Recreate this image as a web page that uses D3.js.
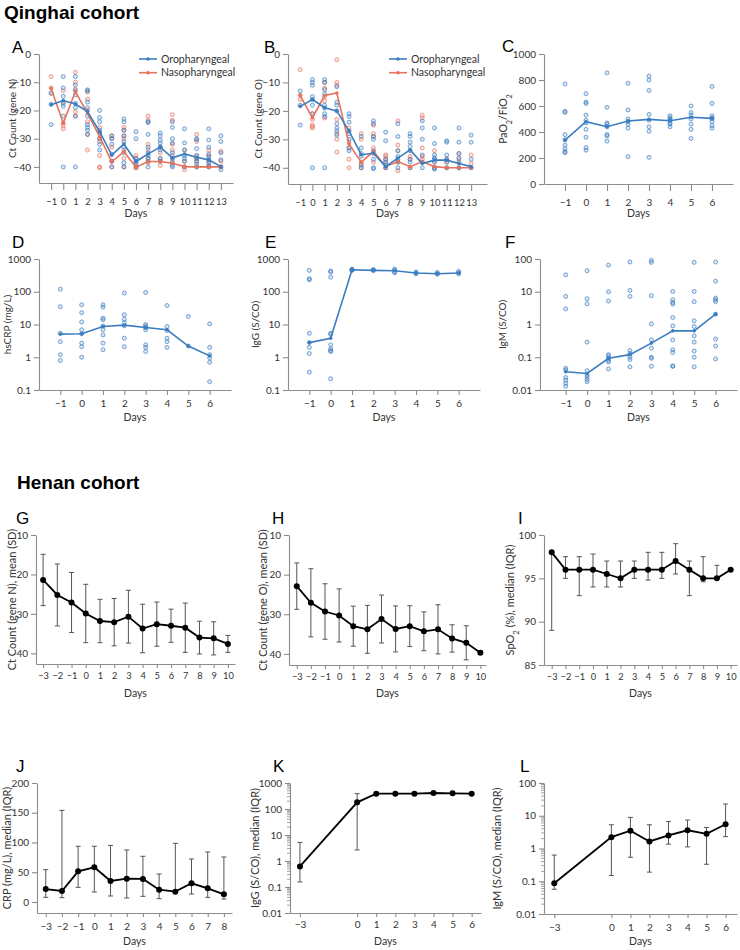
<!DOCTYPE html>
<html lang="en">
<head>
<meta charset="UTF-8">
<script src="https://cdn.jsdelivr.net/npm/d3@7"></script>
<title>cohort panels</title>
<style>
body{margin:0;background:#fff;}
svg text{font-family:Lato,"Open Sans",sans-serif;fill:#333;}
.ttl{font-family:"Liberation Sans",Arial,sans-serif;font-weight:bold;font-size:19px;fill:#000;}
.lab{font-family:"Liberation Sans",Arial,sans-serif;font-size:17px;fill:#000;}
.axis path,.axis line{stroke:#8c8c8c;stroke-width:1.1;}
.axis text{font-size:10px;fill:#333;}
.axis.tight text{font-size:9.3px;}
</style>
</head>
<body>
<svg id="fig" width="740" height="950"></svg>
<script>
// ---------- Qinghai cohort data ----------
var daysQ13=[-1,0,1,2,3,4,5,6,7,8,9,10,11,12,13];
var daysQ6=[-1,0,1,2,3,4,5,6];

// A: Ct gene N
var ctN_oro_mean=[-18,-16.5,-17.7,-20.4,-27.5,-35.8,-31.9,-38.1,-35.4,-33,-36.8,-35.4,-36.6,-37.5,-39.9];
var ctN_naso_mean=[-12.2,-24.5,-13.3,-21,-29.3,-38.2,-34.6,-40.1,-38.1,-38.1,-38.7,-39.9,-40,-40,-40];
var ctN_oro_pts=[
 [-13.8,-17.8,-25],
 [-8,-12,-15,-17.5,-18.5,-22,-40],
 [-8,-11,-13,-14.5,-17.5,-19,-22,-40],
 [-12.7,-13,-17,-19,-22,-25,-26,-27,-28.5],
 [-20,-22.5,-24,-27,-28,-30,-32,-34],
 [-29,-30,-32,-35.5,-38,-40],
 [-23,-24,-27,-29,-31,-33,-35,-38.5,-40],
 [-27.5,-30,-37,-38,-39,-40],
 [-24,-24.3,-28.5,-33,-35,-36,-37,-38,-40],
 [-28,-29,-30.5,-31.5,-33,-34,-37,-38],
 [-24,-26,-30,-31.5,-35,-37,-38.5,-39.5,-40],
 [-26.5,-31.5,-34,-36,-37,-38,-40],
 [-30,-30.3,-33.5,-36,-37,-38,-39,-40],
 [-26.5,-30.5,-33,-35.5,-36.5,-37.5,-38.5,-39.5,-40],
 [-29,-31,-35,-37.5,-40,-41]
];
var ctN_naso_pts=[
 [-8,-12,-14],
 [-13,-17,-24.5,-25.5,-26.5],
 [-6.5,-10,-12.5,-20.5,-22],
 [-13.5,-16,-20,-24,-28.5,-34],
 [-26,-28,-30,-31,-36,-40,-40.3],
 [-29,-30,-33,-38,-40],
 [-26,-27,-29,-30,-34,-37,-40],
 [-36,-37,-38.5,-40,-40.5],
 [-22,-23.5,-32,-34,-37,-38.5],
 [-33,-35,-37,-38,-39.5],
 [-21.5,-23.5,-32,-34,-36,-38],
 [-34,-38,-40,-41],
 [-28.5,-31,-36,-37,-38,-40],
 [-34,-36,-38,-40],
 [-34.5,-38,-40]
];

// B: Ct gene O
var ctO_oro_mean=[-18.4,-16,-18.9,-20,-27.1,-35.4,-34.9,-39.6,-36.6,-33.7,-38.5,-37.3,-37.3,-38.5,-39.6];
var ctO_naso_mean=[-14.6,-22.4,-14.6,-13.7,-31.6,-38.1,-34.2,-39.6,-37.8,-39.6,-37.8,-39.6,-40,-40,-40];
var ctO_oro_pts=[
 [-13,-18,-25],
 [-9,-10,-11,-15,-16,-18,-21,-40],
 [-9,-10,-12.5,-14,-18,-19,-21,-22,-40],
 [-11.5,-17,-18,-20,-24.5,-26,-27,-28.5],
 [-21,-22,-24,-27,-28,-30,-33,-34],
 [-29,-33,-35,-36,-39,-40],
 [-23.5,-24.5,-29,-30,-34,-37,-40,-40.3],
 [-27.5,-30.5,-37,-38,-39,-40],
 [-24.5,-29,-34,-36,-37,-38,-40],
 [-28,-29,-31,-32.5,-34,-37,-38,-40],
 [-23.5,-26,-30,-35.5,-38,-40],
 [-26,-31.5,-35.5,-36.5,-37,-38,-40,-40.5],
 [-30.5,-31,-35.5,-37,-38,-40],
 [-26,-31,-35,-36.5,-38,-40],
 [-28.5,-31,-37,-40]
];
var ctO_naso_pts=[
 [-5.5,-14.5,-16],
 [-21,-23,-25,-25.5,-26],
 [-10,-12,-15,-16.5,-22.5],
 [-2,-10,-11,-23,-28,-30,-34.5],
 [-26,-31,-33,-37,-40],
 [-28,-30,-38,-39,-40],
 [-25,-28,-29,-33,-35,-38],
 [-35.5,-36,-37,-38,-40],
 [-23.5,-32,-34,-38,-41],
 [-36,-37,-40],
 [-21.5,-22.5,-33,-36,-37],
 [-34,-38,-40],
 [-37,-38,-40],
 [-35,-37,-40],
 [-35.5,-38.5,-40]
];

// C: PaO2/FiO2
var pf_mean=[338,479,441,485,497,487,513,505];
var pf_pts=[
 [770,560,550,380,340,300,270,250,240],
 [695,630,620,530,490,470,420,360,280,260],
 [855,590,470,460,440,380,370,330],
 [775,570,500,480,460,430,210],
 [830,800,720,535,490,440,405,205],
 [525,510,500,490,470,460,440],
 [600,550,530,500,460,420,350],
 [750,620,525,510,500,480,450,430]
];

// D: hsCRP
var hscrp_mean=[5.1,5.2,8.7,9.6,8.1,6.9,2.2,1.1];
var hscrp_pts=[
 [120,35,5.4,3.0,1.2,0.8],
 [40,23,12,6.9,5.2,2.7,2.1,1.0],
 [40,34,15.6,14,9,6.9,4.8,2.7,1.7],
 [91,20,14.5,11.5,9.1,3.8,2.1],
 [95,10,9,8,6.9,2.4,2.0,1.5],
 [38,8.7,6.6,3.8,3.0,2.0],
 [17.6,2.2],
 [10.5,2.0,1.2,0.95,0.7,0.18]
];

// E: IgG
var igg_mean=[2.8,3.8,471,450,440,373,355,373];
var igg_pts=[
 [450,250,233,5.4,2.8,2.0,1.3,0.35],
 [430,400,280,5.4,5.0,2.4,1.8,1.6,1.5,0.22],
 [490,470,450,460],
 [480,460,440],
 [490,460,400,380],
 [400,380,350],
 [390,360,340],
 [420,380,350]
];

// F: IgM
var igm_mean=[0.036,0.032,0.093,0.12,0.27,0.64,0.64,2.07];
var igm_pts=[
 [33,7.2,3.0,0.046,0.041,0.024,0.02,0.016,0.013],
 [44,6.1,4.3,0.29,0.039,0.029,0.025,0.021,0.018],
 [65,10,5.2,0.12,0.11,0.093,0.08,0.072,0.044],
 [81,11,7.2,0.16,0.13,0.1,0.085,0.051],
 [91,79,7.6,1.05,0.34,0.19,0.1,0.093,0.053],
 [10.2,5.7,4.7,4.2,1.64,0.91,0.34,0.17,0.14,0.054,0.053],
 [79,10.2,5,1.3,0.87,0.45,0.29,0.155,0.1,0.051],
 [81,21,6.4,5.7,5,2.07,0.36,0.22,0.089]
];

// ---------- Henan cohort data ----------
var daysH=[-3,-2,-1,0,1,2,3,4,5,6,7,8,9,10];
var ctN_h_mean=[21.4,25.2,27.1,29.9,31.8,32.1,30.7,33.7,32.6,33.0,33.5,36.0,36.2,37.6];
var ctN_h_sd=[6.5,7.85,7.6,7.4,5.5,6.0,6.7,6.15,5.6,4.2,6.25,4.15,4.2,2.15];
var ctO_h_mean=[22.9,27.1,29.3,30.3,33.0,33.8,31.2,33.7,33.0,34.3,33.8,36.1,37.2,39.7];
var ctO_h_sd=[5.85,8.6,7,6.7,5.05,6.05,6.05,5.8,5.15,4.9,6.2,3.45,4.3,0.45];
var spo2_med=[98,96,96,96,95.5,95,96,96,96,97,96,95,95,96];
var spo2_q1=[89,95,93,94,94,94,95,94.8,95,95.5,93,94.6,95,96];
var spo2_q3=[98,97.5,97.5,97.8,97,97,97,98,98,99,97,97.5,96.5,96];

var daysJ=[-3,-2,-1,0,1,2,3,4,5,6,7,8];
var crp_med=[21.8,18.5,51.5,58.3,35.3,39.2,38.7,20.7,17.4,31.4,23,12.9];
var crp_q1=[7.8,7.3,24.6,16.8,10.1,6.7,9.5,5.6,16.2,13.4,7.8,5];
var crp_q3=[54.3,154,93.6,93.6,95.2,87.4,76.8,47,98.6,72.3,84,75.6];

var daysK=[-3,0,1,2,3,4,5,6];
var iggH_med=[0.62,180,389,389,389,413,400,389];
var iggH_q1=[0.156,2.65,372,372,372,395,383,372];
var iggH_q3=[5.2,389,405,405,405,430,418,405];
var igmH_med=[0.087,2.22,3.5,1.64,2.5,3.6,2.8,5.5];
var igmH_q1=[0.057,0.15,0.54,0.19,1.36,1.12,0.33,2.3];
var igmH_q3=[0.63,5.3,8.9,5.3,6.7,7.4,4.4,22.8];

// ---------- drawing ----------
var BLUE="#3b7dc0", ORANGE="#e6735c";
var svg=d3.select('#fig');

svg.append('text').attr('class','ttl').attr('x',4).attr('y',19).text('Qinghai cohort');
svg.append('text').attr('class','ttl').attr('x',17).attr('y',489).text('Henan cohort');

function fmtLog(d){ return d<1 ? String(d) : d3.format('d')(d); }

function panel(o){
    var x=d3.scaleLinear().domain(o.xd).range([o.x0,o.x1]);
    var y=(o.log?d3.scaleLog():d3.scaleLinear()).domain(o.yd).range([o.y1,o.y0]);
    var g=svg.append('g');

    // letter
    svg.append('text').attr('class','lab').attr('x',o.lx).attr('y',o.ly).text(o.letter);

    // x axis
    g.append('g').attr('class','axis'+(o.tight?' tight':'')).attr('transform','translate(0,'+o.y1+')')
        .call(d3.axisBottom(x).tickValues(o.xt).tickSize(o.xtl).tickPadding(o.xtp)
            .tickSizeOuter(0).tickFormat(d3.format('d')));
    // y axis
    var ya=d3.axisLeft(y).tickValues(o.yt).tickSize(5).tickPadding(3).tickSizeOuter(0)
        .tickFormat(o.log?fmtLog:d3.format('d'));
    g.append('g').attr('class','axis').attr('transform','translate('+o.x0+',0)').call(ya);

    // minor log ticks
    if(o.minor){
        var minors=[];
        for(var i=0;i<o.yt.length-1;i++)
            for(var k=2;k<10;k++) minors.push(o.yt[i]*k);
        g.selectAll(null).data(minors).enter().append('line')
            .attr('x1',o.x0-3).attr('x2',o.x0)
            .attr('y1',function(d){return y(d);}).attr('y2',function(d){return y(d);})
            .attr('stroke','#8c8c8c').attr('stroke-width',0.8);
    }

    // axis titles
    g.append('text').attr('x',(o.x0+o.x1)/2+(o.dx||0)).attr('y',o.daysY)
        .attr('text-anchor','middle').style('font-size','10.5px').text('Days');
    var yt=g.append('text').attr('transform','translate('+o.tx+','+((o.y0+o.y1)/2)+') rotate(-90)')
        .attr('text-anchor','middle').attr('dy','0.35em').style('font-size',o.tfs+'px');
    o.title.forEach(function(p){
        var t=yt.append('tspan').text(p[0]);
        if(p[1]) t.attr('baseline-shift','sub').style('font-size',(o.tfs*0.7)+'px');
    });
    return {x:x,y:y,g:g};
}

function scatter(P,days,pts,color){
    var flat=[];
    days.forEach(function(d,i){ pts[i].forEach(function(v){ flat.push([d,v]); }); });
    P.g.selectAll(null).data(flat).enter().append('circle')
        .attr('cx',function(d){return P.x(d[0]);})
        .attr('cy',function(d){return P.y(d[1]);})
        .attr('r',2)
        .attr('fill',color).attr('fill-opacity',0.18)
        .attr('stroke',color).attr('stroke-opacity',0.75).attr('stroke-width',0.9);
}

function meanLine(P,days,vals,color){
    var data=days.map(function(d,i){return [d,vals[i]];});
    P.g.append('path').datum(data)
        .attr('d',d3.line().x(function(d){return P.x(d[0]);}).y(function(d){return P.y(d[1]);}))
        .attr('fill','none').attr('stroke',color).attr('stroke-width',1.6);
    P.g.selectAll(null).data(data).enter().append('circle')
        .attr('cx',function(d){return P.x(d[0]);}).attr('cy',function(d){return P.y(d[1]);})
        .attr('r',1.8).attr('fill',color);
}

function legend(lx,ly){
    [['Oropharyngeal',BLUE],['Nasopharyngeal',ORANGE]].forEach(function(e,i){
        var yy=ly+i*13.7;
        svg.append('line').attr('x1',lx).attr('x2',lx+18).attr('y1',yy).attr('y2',yy)
            .attr('stroke',e[1]).attr('stroke-width',1.6);
        svg.append('circle').attr('cx',lx+9).attr('cy',yy).attr('r',1.8).attr('fill',e[1]);
        svg.append('text').attr('x',lx+22).attr('y',yy).attr('dy','0.35em')
            .style('font-size','10.5px').text(e[0]);
    });
}

function errLine(P,days,mid,lo,hi){
    var data=days.map(function(d,i){return {d:d,m:mid[i],lo:lo[i],hi:hi[i]};});
    var eb=P.g.selectAll(null).data(data).enter().append('g');
    eb.append('line').attr('x1',function(d){return P.x(d.d);}).attr('x2',function(d){return P.x(d.d);})
        .attr('y1',function(d){return P.y(d.lo);}).attr('y2',function(d){return P.y(d.hi);})
        .attr('stroke','#555').attr('stroke-width',1);
    ['lo','hi'].forEach(function(k){
        eb.append('line').attr('x1',function(d){return P.x(d.d)-2.5;}).attr('x2',function(d){return P.x(d.d)+2.5;})
            .attr('y1',function(d){return P.y(d[k]);}).attr('y2',function(d){return P.y(d[k]);})
            .attr('stroke','#555').attr('stroke-width',1);
    });
    P.g.append('path').datum(data)
        .attr('d',d3.line().x(function(d){return P.x(d.d);}).y(function(d){return P.y(d.m);}))
        .attr('fill','none').attr('stroke','#000').attr('stroke-width',1.8);
    P.g.selectAll(null).data(data).enter().append('circle')
        .attr('cx',function(d){return P.x(d.d);}).attr('cy',function(d){return P.y(d.m);})
        .attr('r',3).attr('fill','#000');
}

// ---- Qinghai row 1 ----
var ctTicks=[0,-10,-20,-30,-40];
var A=panel({letter:'A',lx:12,ly:53,x0:39,x1:233,y0:54,y1:183,xd:[-2,14],yd:[-45.7,0],tight:true,
    xt:daysQ13,yt:ctTicks,xtl:7,xtp:8,daysY:217,tx:12,tfs:10,title:[['Ct Count (gene N)']]});
scatter(A,daysQ13,ctN_naso_pts,ORANGE);
scatter(A,daysQ13,ctN_oro_pts,BLUE);
meanLine(A,daysQ13,ctN_naso_mean,ORANGE);
meanLine(A,daysQ13,ctN_oro_mean,BLUE);
legend(139,59);

var B=panel({letter:'B',lx:264,ly:53,x0:288,x1:487,y0:54,y1:184,xd:[-2,14.3],yd:[-45.7,0],tight:true,
    xt:daysQ13,yt:ctTicks,xtl:7,xtp:8,daysY:217,tx:258,tfs:10,title:[['Ct Count (gene O)']]});
scatter(B,daysQ13,ctO_naso_pts,ORANGE);
scatter(B,daysQ13,ctO_oro_pts,BLUE);
meanLine(B,daysQ13,ctO_naso_mean,ORANGE);
meanLine(B,daysQ13,ctO_oro_mean,BLUE);
legend(389,59);

var C=panel({letter:'C',lx:502,ly:52,x0:544,x1:733,y0:54,y1:184,xd:[-2,7],yd:[0,1000],
    xt:daysQ6,yt:[0,200,400,600,800,1000],xtl:7,xtp:8,daysY:217,tx:503,tfs:10.5,
    title:[['PaO'],['2',1],['/FiO'],['2',1]]});
scatter(C,daysQ6,pf_pts,BLUE);
meanLine(C,daysQ6,pf_mean,BLUE);

// ---- Qinghai row 2 ----
var D=panel({letter:'D',lx:12,ly:248,x0:39,x1:231,y0:259,y1:390,xd:[-2,7],yd:[0.1,1000],log:true,
    xt:daysQ6,yt:[0.1,1,10,100,1000],xtl:5,xtp:5,daysY:421,tx:7,tfs:10,title:[['hsCRP (mg/L)']]});
scatter(D,daysQ6,hscrp_pts,BLUE);
meanLine(D,daysQ6,hscrp_mean,BLUE);

var E=panel({letter:'E',lx:265,ly:248,x0:288,x1:480,y0:259,y1:390,xd:[-2,7],yd:[0.1,1000],log:true,
    xt:daysQ6,yt:[0.1,1,10,100,1000],xtl:5,xtp:5,daysY:421,tx:255,tfs:10,title:[['IgG (S/CO)']]});
scatter(E,daysQ6,igg_pts,BLUE);
meanLine(E,daysQ6,igg_mean,BLUE);

var F=panel({letter:'F',lx:505,ly:248,x0:540,x1:737,y0:259,y1:390,xd:[-2.2,7],yd:[0.01,100],log:true,
    xt:daysQ6,yt:[0.01,0.1,1,10,100],xtl:5,xtp:5,daysY:421,tx:502,tfs:10,title:[['IgM (S/CO)']]});
scatter(F,daysQ6,igm_pts,BLUE);
meanLine(F,daysQ6,igm_mean,BLUE);

// ---- Henan row 1 ----
function lo(m,s){return m.map(function(v,i){return v-s[i];});}
function hi(m,s){return m.map(function(v,i){return v+s[i];});}

var G=panel({letter:'G',lx:16,ly:524,x0:36,x1:235,y0:535,y1:664,xd:[-3.5,10.5],yd:[42.7,10],tight:true,
    xt:daysH,yt:[10,20,30,40],xtl:4,xtp:4,daysY:697,tx:12,tfs:11,title:[['Ct Count (gene N), mean (SD)']]});
errLine(G,daysH,ctN_h_mean,lo(ctN_h_mean,ctN_h_sd),hi(ctN_h_mean,ctN_h_sd));

var H=panel({letter:'H',lx:272,ly:524,x0:289,x1:486,y0:535,y1:665,xd:[-3.55,10.4],yd:[42.8,10],tight:true,
    xt:daysH,yt:[10,20,30,40],xtl:4,xtp:4,daysY:697,tx:263,tfs:11,title:[['Ct Count (gene O), mean (SD)']]});
errLine(H,daysH,ctO_h_mean,lo(ctO_h_mean,ctO_h_sd),hi(ctO_h_mean,ctO_h_sd));

var I=panel({letter:'I',lx:518,ly:524,x0:544,x1:737,y0:535,y1:665,xd:[-3.56,10.46],yd:[85,100],tight:true,
    xt:daysH,yt:[85,90,95,100],xtl:4,xtp:4,daysY:697,tx:510,tfs:11,
    title:[['SpO'],['2',1],[' (%), median (IQR)']]});
errLine(I,daysH,spo2_med,spo2_q1,spo2_q3);

// ---- Henan row 2 ----
var J=panel({letter:'J',lx:16,ly:772,x0:37,x1:232,y0:783,y1:913,xd:[-3.54,8.5],yd:[-18.5,200],
    xt:daysJ,yt:[0,50,100,150,200],xtl:4,xtp:6,daysY:945,tx:7,tfs:11,title:[['CRP (mg/L), median (IQR)']]});
errLine(J,daysJ,crp_med,crp_q1,crp_q3);

var K=panel({letter:'K',lx:273,ly:772,x0:290,x1:481,y0:783,y1:913,xd:[-3.52,6.49],yd:[0.01,1000],log:true,minor:true,
    xt:daysK,yt:[0.01,0.1,1,10,100,1000],xtl:4,xtp:4,daysY:945,tx:255,tfs:11,title:[['IgG (S/CO), median (IQR)']]});
errLine(K,daysK,iggH_med,iggH_q1,iggH_q3);

var L=panel({letter:'L',lx:520,ly:772,x0:544,x1:737,y0:783,y1:914,xd:[-3.54,6.6],yd:[0.01,100],log:true,minor:true,
    xt:daysK,yt:[0.01,0.1,1,10,100],xtl:4,xtp:6,daysY:945,tx:497,tfs:11,title:[['IgM (S/CO), median (IQR)']]});
errLine(L,daysK,igmH_med,igmH_q1,igmH_q3);
</script>
</body>
</html>
